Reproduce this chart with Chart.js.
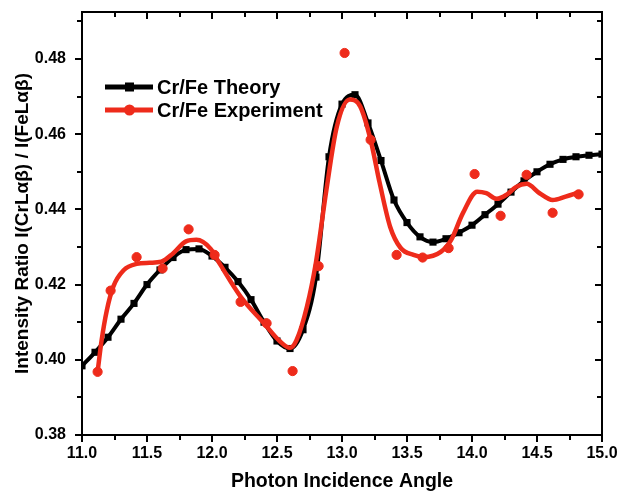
<!DOCTYPE html>
<html>
<head>
<meta charset="utf-8">
<script src="https://cdn.jsdelivr.net/npm/chart.js@4.4.1/dist/chart.umd.min.js"></script>
<style>
  html, body { margin: 0; padding: 0; background: #fff; }
  #wrap { width: 620px; height: 502px; }
</style>
</head>
<body>
<div id="wrap"><canvas id="chart" width="620" height="502"></canvas></div>
<script>
// Cr/Fe theory curve (sampled every 0.1)
const theoryAngle = [11.0, 11.1, 11.2, 11.3, 11.4, 11.5, 11.6, 11.7, 11.8, 11.9,
                     12.0, 12.1, 12.2, 12.3, 12.4, 12.5, 12.6, 12.7, 12.8, 12.9,
                     13.0, 13.1, 13.2, 13.3, 13.4, 13.5, 13.6, 13.7, 13.8, 13.9,
                     14.0, 14.1, 14.2, 14.3, 14.4, 14.5, 14.6, 14.7, 14.8, 14.9, 15.0];
const theoryRatio = [0.3984, 0.4020, 0.4060, 0.4108, 0.4150, 0.4200, 0.4239, 0.4272, 0.4293, 0.4295,
                     0.4276, 0.4246, 0.4208, 0.4160, 0.4100, 0.4050, 0.4030, 0.4080, 0.4220, 0.4540,
                     0.4680, 0.4705, 0.4630, 0.4530, 0.4425, 0.4365, 0.4327, 0.4313, 0.4322, 0.4338,
                     0.4358, 0.4386, 0.4414, 0.4446, 0.4476, 0.4500, 0.4520, 0.4533, 0.4540, 0.4544, 0.4547];

// smoothed experiment curve
const fitAngle = [11.12, 11.15, 11.19, 11.24, 11.32, 11.42, 11.52, 11.61, 11.70, 11.80,
                  11.88, 11.99, 12.06, 12.22, 12.40, 12.52, 12.60, 12.65, 12.73, 12.80,
                  12.88, 12.96, 13.06, 13.14, 13.22, 13.29, 13.37, 13.45, 13.55, 13.63,
                  13.76, 13.84, 13.93, 14.04, 14.11, 14.19, 14.27, 14.34, 14.42, 14.52,
                  14.62, 14.72, 14.82];
const fitRatio = [0.3968, 0.4050, 0.4130, 0.4194, 0.4238, 0.4255, 0.4258, 0.4261, 0.4283, 0.4315,
                  0.4319, 0.4295, 0.4255, 0.4168, 0.4097, 0.4050, 0.4032, 0.4052, 0.4141, 0.4260,
                  0.4452, 0.4620, 0.4692, 0.4674, 0.4585, 0.4470, 0.4354, 0.4298, 0.4279, 0.4273,
                  0.4287, 0.4319, 0.4390, 0.4447, 0.4443, 0.4428, 0.4440, 0.4460, 0.4468, 0.4443,
                  0.4425, 0.4434, 0.4445];

// measured points
const expAngle = [11.12, 11.22, 11.42, 11.62, 11.82, 12.02, 12.22, 12.42, 12.62, 12.82,
                  13.02, 13.22, 13.42, 13.62, 13.82, 14.02, 14.22, 14.42, 14.62, 14.82];
const expRatio = [0.3968, 0.4184, 0.4273, 0.4243, 0.4347, 0.4279, 0.4154, 0.4097, 0.3970, 0.4249,
                  0.4816, 0.4585, 0.4279, 0.4272, 0.4297, 0.4494, 0.4383, 0.4492, 0.4391, 0.4440];

const xMajor = [11.0, 11.5, 12.0, 12.5, 13.0, 13.5, 14.0, 14.5, 15.0];
const xMinor = [11.25, 11.75, 12.25, 12.75, 13.25, 13.75, 14.25, 14.75];
const yMajor = [0.38, 0.40, 0.42, 0.44, 0.46, 0.48];
const yMinor = [0.39, 0.41, 0.43, 0.45, 0.47, 0.49];

const RED = '#ee2b1b';
const FONT = "'Liberation Sans', Arial, sans-serif";

const toPoints = (xs, ys) => xs.map((v, i) => ({ x: v, y: ys[i] }));

const framePlugin = {
    id: 'frame',
    afterDraw(chart) {
        const { ctx, chartArea: a, scales: { x, y } } = chart;
        ctx.save();
        ctx.strokeStyle = '#000';
        ctx.lineWidth = 2;
        ctx.strokeRect(a.left, a.top, a.right - a.left, a.bottom - a.top);
        ctx.beginPath();
        const xt = (v, len) => {
            const px = Math.round(x.getPixelForValue(v));
            ctx.moveTo(px, a.bottom); ctx.lineTo(px, a.bottom + len);
            ctx.moveTo(px, a.top); ctx.lineTo(px, a.top + len);
        };
        const yt = (v, len) => {
            const py = Math.round(y.getPixelForValue(v));
            ctx.moveTo(a.left, py); ctx.lineTo(a.left - len, py);
            ctx.moveTo(a.right, py); ctx.lineTo(a.right - len, py);
        };
        xMajor.forEach(v => xt(v, 7));
        xMinor.forEach(v => xt(v, 5));
        yMajor.forEach(v => yt(v, 7));
        yMinor.forEach(v => yt(v, 5));
        ctx.stroke();
        ctx.restore();
    }
};

const legendPlugin = {
    id: 'insideLegend',
    afterDraw(chart) {
        const ctx = chart.ctx;
        const items = [
            { label: 'Cr/Fe Theory', color: '#000', marker: 'rect', y: 87 },
            { label: 'Cr/Fe Experiment', color: RED, marker: 'circle', y: 110 }
        ];
        ctx.save();
        items.forEach(it => {
            ctx.strokeStyle = it.color;
            ctx.fillStyle = it.color;
            ctx.lineWidth = 5;
            ctx.beginPath();
            ctx.moveTo(105, it.y);
            ctx.lineTo(153, it.y);
            ctx.stroke();
            if (it.marker === 'rect') {
                ctx.fillRect(125, it.y - 4.5, 9, 9);
            } else {
                ctx.beginPath();
                ctx.arc(129.5, it.y, 5.5, 0, Math.PI * 2);
                ctx.fill();
            }
            ctx.fillStyle = '#000';
            ctx.font = 'bold 20px ' + FONT;
            ctx.textBaseline = 'middle';
            ctx.fillText(it.label, 157, it.y + 1);
        });
        ctx.restore();
    }
};

const ctx = document.getElementById('chart').getContext('2d');
new Chart(ctx, {
    type: 'scatter',
    data: {
        datasets: [
            {
                label: 'Cr/Fe Theory',
                data: toPoints(theoryAngle, theoryRatio),
                showLine: true,
                borderColor: '#000',
                backgroundColor: '#000',
                borderWidth: 4,
                pointStyle: 'rect',
                pointRadius: 2.2,
                cubicInterpolationMode: 'monotone',
                order: 3
            },
            {
                label: 'Cr/Fe Experiment fit',
                data: toPoints(fitAngle, fitRatio),
                showLine: true,
                borderColor: RED,
                borderWidth: 4.5,
                pointRadius: 0,
                cubicInterpolationMode: 'monotone',
                order: 2
            },
            {
                label: 'Cr/Fe Experiment',
                data: toPoints(expAngle, expRatio),
                showLine: false,
                backgroundColor: RED,
                borderColor: RED,
                pointRadius: 4.6,
                order: 1
            }
        ]
    },
    options: {
        responsive: false,
        animation: false,
        layout: { padding: { top: 12, right: 18, left: 0, bottom: 0 } },
        plugins: {
            legend: { display: false },
            tooltip: { enabled: false }
        },
        scales: {
            x: {
                type: 'linear',
                min: 11.0,
                max: 15.0,
                afterFit: (s) => { s.height = 67; s.paddingLeft = 0; s.paddingRight = 0; },
                afterBuildTicks: (s) => { s.ticks = xMajor.map(v => ({ value: v })); },
                grid: { display: false, drawTicks: false },
                border: { display: false },
                ticks: {
                    padding: 9,
                    color: '#000',
                    font: { family: FONT, size: 16, weight: 'bold' },
                    callback: (v) => Number(v).toFixed(1)
                },
                title: {
                    display: true,
                    text: 'Photon Incidence Angle',
                    color: '#000',
                    font: { family: FONT, size: 19.5, weight: 'bold' },
                    padding: { top: 9, bottom: 9 }
                }
            },
            y: {
                min: 0.38,
                max: 0.4925,
                afterFit: (s) => { s.width = 82; s.paddingTop = 0; s.paddingBottom = 0; },
                afterBuildTicks: (s) => { s.ticks = yMajor.map(v => ({ value: v })); },
                grid: { display: false, drawTicks: false },
                border: { display: false },
                ticks: {
                    padding: 16,
                    color: '#000',
                    font: { family: FONT, size: 16, weight: 'bold' },
                    callback: (v) => Number(v).toFixed(2)
                },
                title: {
                    display: true,
                    text: 'Intensity Ratio I(CrL\u03B1\u03B2) / I(FeL\u03B1\u03B2)',
                    color: '#000',
                    font: { family: FONT, size: 19, weight: 'bold' },
                    padding: { top: 11, bottom: 11 }
                }
            }
        }
    },
    plugins: [framePlugin, legendPlugin]
});
</script>
</body>
</html>
